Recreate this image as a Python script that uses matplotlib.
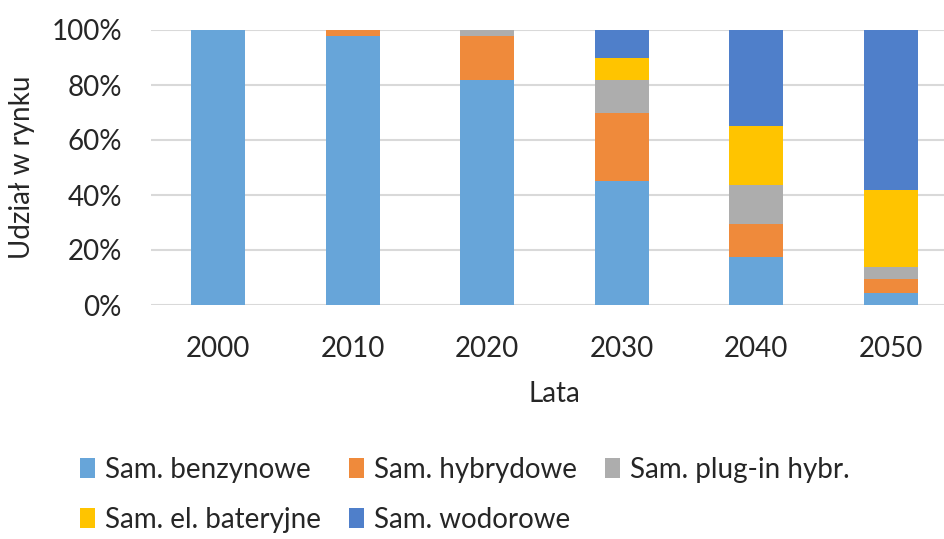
import matplotlib
matplotlib.use("Agg")
import matplotlib.pyplot as plt
import numpy as np

years = ["2000", "2010", "2020", "2030", "2040", "2050"]
series_names = ["Sam. benzynowe", "Sam. hybrydowe", "Sam. plug-in hybr.",
                "Sam. el. bateryjne", "Sam. wodorowe"]
benzynowe = [100, 98, 82, 45, 17.5, 4.5]
hybrydowe = [0, 2, 16, 25, 12, 5]
plugin = [0, 0, 2, 12, 14, 4.5]
bateryjne = [0, 0, 0, 8, 21.5, 28]
wodorowe = [0, 0, 0, 10, 35, 58]
yticks = [0, 20, 40, 60, 80, 100]
colors = ["#67A5D9", "#EF8A3B", "#ADADAD", "#FFC400", "#4F7FCA"]

plt.rcParams['font.family'] = ['Lato', 'DejaVu Sans']
FS = 20

fig = plt.figure(figsize=(9.44, 5.39), dpi=100)
ax = fig.add_axes([151/944, (539-305)/539, 807/944, 275/539])

x = np.arange(len(years))
data = [benzynowe, hybrydowe, plugin, bateryjne, wodorowe]
bottom = np.zeros(len(years))
handles = []
for vals, name, c in zip(data, series_names, colors):
    vals = np.array(vals, dtype=float)
    h = ax.bar(x, vals, width=0.4, bottom=bottom, color=c, label=name, zorder=3)
    handles.append(h)
    bottom += vals

ax.set_xlim(-0.5, len(years) - 0.5)
ax.set_ylim(0, 100)
ax.set_yticks(yticks)
ax.set_yticklabels([f"{v}%" for v in yticks])
ax.set_xticks(x)
ax.set_xticklabels(years)
ax.tick_params(axis='both', length=0, labelsize=FS, colors='#262626')
ax.tick_params(axis='y', pad=21)
ax.tick_params(axis='x', pad=22)
ax.grid(axis='y', color='#D9D9D9', linewidth=1.5, zorder=0)
for s in ax.spines.values():
    s.set_visible(False)
ax.set_ylabel("Udział w rynku", fontsize=FS, color='#262626', labelpad=12)
ax.set_xlabel("Lata", fontsize=FS, color='#262626', labelpad=14)

order = [0, 3, 1, 4, 2]
leg = fig.legend([handles[i] for i in order], [series_names[i] for i in order],
                 ncol=3, loc='upper left', bbox_to_anchor=(80/944, 1 - 457/539),
                 frameon=False, fontsize=FS, handlelength=0.55, handleheight=0.75,
                 handletextpad=0.35, columnspacing=1.0, labelspacing=0.85,
                 labelcolor='#262626', borderaxespad=0, borderpad=0)

fig.savefig("out.png", dpi=100)
